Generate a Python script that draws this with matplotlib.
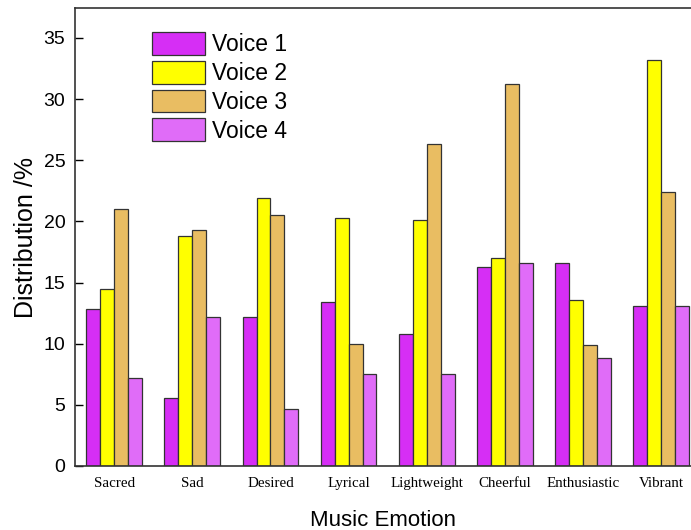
import numpy as np
import matplotlib.pyplot as plt

emotions = ['Sacred', 'Sad', 'Desired', 'Lyrical', 'Lightweight', 'Cheerful', 'Enthusiastic', 'Vibrant']
voice1 = [12.8, 5.6, 12.2, 13.4, 10.8, 16.3, 16.6, 13.1]
voice2 = [14.5, 18.8, 21.9, 20.3, 20.1, 17.0, 13.6, 33.2]
voice3 = [21.0, 19.3, 20.5, 10.0, 26.3, 31.2, 9.9, 22.4]
voice4 = [7.2, 12.2, 4.7, 7.5, 7.5, 16.6, 8.8, 13.1]
series_names = ['Voice 1', 'Voice 2', 'Voice 3', 'Voice 4']
colors = ['#d62ef5', '#ffff00', '#e9bd62', '#e06cf8']

fig = plt.figure(figsize=(6.91, 5.30), dpi=100)
ax = fig.add_axes([75 / 691, (530 - 466) / 530, (691 - 75) / 691, 458 / 530])

x = np.arange(len(emotions))
w = 0.178
for i, (vals, name, c) in enumerate(zip([voice1, voice2, voice3, voice4], series_names, colors)):
    ax.bar(x + (i - 1.5) * w, vals, width=w, color=c, edgecolor='#333333',
           linewidth=0.9, label=name)

ax.set_xlim(-0.5, 7.38)
ax.set_ylim(0, 37.45)
ax.set_yticks(range(0, 36, 5))
ax.set_xticks(x)
ax.set_xticklabels(emotions, family='Liberation Serif', fontsize=10.8)
ax.tick_params(axis='x', length=0, pad=8)
ax.tick_params(axis='y', direction='in', length=6, width=1, labelsize=14, pad=7)
for lab in ax.get_yticklabels():
    lab.set_family('Liberation Sans')

ax.spines['right'].set_visible(False)
for s in ['left', 'bottom', 'top']:
    ax.spines[s].set_linewidth(1.2)
    ax.spines[s].set_color('#333333')

ax.set_xlabel('Music Emotion', family='Liberation Sans', fontsize=16, labelpad=14)
ax.set_ylabel('Distribution /%', family='Liberation Sans', fontsize=18, labelpad=4)

ax.legend(loc='upper left', bbox_to_anchor=(0.125, 0.947), frameon=False,
          prop={'family': 'Liberation Sans', 'size': 16.5},
          handlelength=2.3, handleheight=1.15, labelspacing=0.2, handletextpad=0.3,
          borderpad=0, borderaxespad=0)

fig.savefig('out.png', dpi=100)
